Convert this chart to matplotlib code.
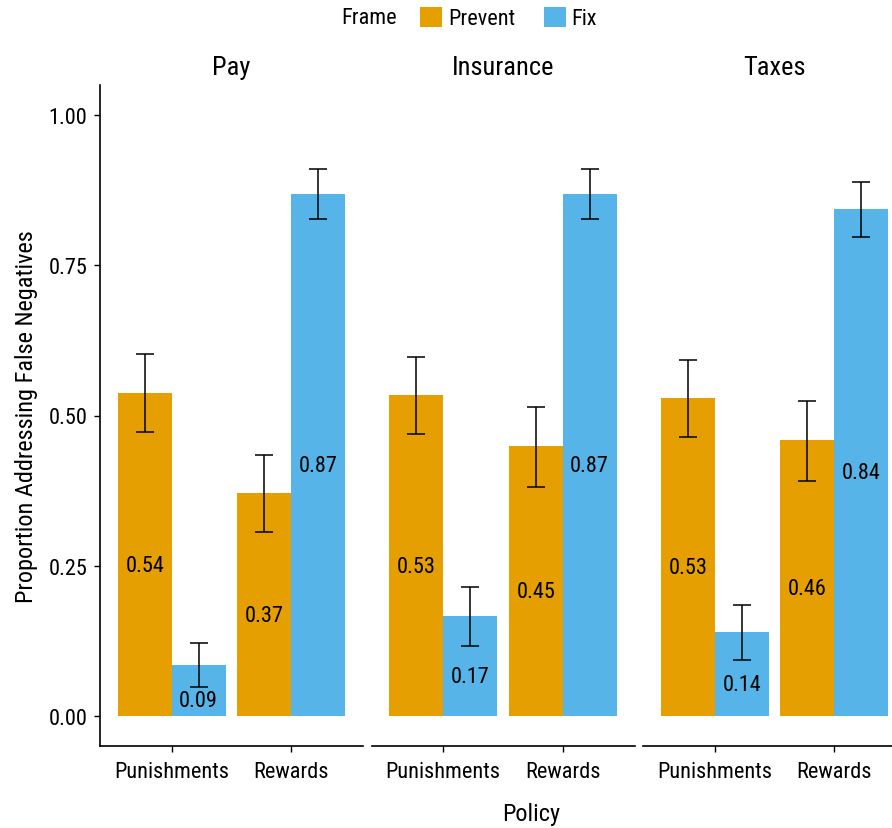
import numpy as np
import matplotlib.pyplot as plt
from matplotlib import font_manager
from matplotlib.patches import Patch

### DATOS ###

paneles = ["Pay", "Insurance", "Taxes"]
politicas = ["Punishments", "Rewards"]
marcos = ["Prevent", "Fix"]

# proporciones [panel][politica]
prevent = [[0.537, 0.371], [0.534, 0.449], [0.529, 0.459]]
fix = [[0.085, 0.869], [0.166, 0.869], [0.140, 0.844]]

# intervalos (bajo, alto)
prevent_lo = [[0.473, 0.306], [0.469, 0.381], [0.464, 0.391]]
prevent_hi = [[0.602, 0.434], [0.597, 0.514], [0.592, 0.524]]
fix_lo = [[0.048, 0.827], [0.116, 0.827], [0.093, 0.797]]
fix_hi = [[0.121, 0.910], [0.215, 0.910], [0.185, 0.889]]

yticks = [0.00, 0.25, 0.50, 0.75, 1.00]

colores = {"Prevent": "#E69F00", "Fix": "#56B4E9"}

### FUENTE ###

nombres = set(f.name for f in font_manager.fontManager.ttflist)
fam = []
for n in ["Liberation Sans Narrow", "Roboto Condensed", "Roboto", "DejaVu Sans"]:
	if n in nombres:
		fam.append(n)
plt.rcParams['font.family'] = fam

W, H = 892, 829
fig = plt.figure(figsize=(W/100, H/100), dpi=100)

ylo, yhi = -0.05, 1.05
y0px = 717 + (0 - ylo)*601
y1px = 717 - yhi*601
ancho = 263
izq = [100, 371.5, 643]

datos = {"Prevent": (prevent, prevent_lo, prevent_hi), "Fix": (fix, fix_lo, fix_hi)}

x = np.arange(1, len(politicas)+1)
w = 0.45
fs = 16

for i, panel in enumerate(paneles):
	ax = fig.add_axes([izq[i]/W, (H - y0px)/H, ancho/W, (y0px - y1px)/H])
	for j, m in enumerate(marcos):
		vals, lo, hi = datos[m]
		v = np.array(vals[i])
		xs = x + (j - 0.5)*w
		ax.bar(xs, v, width=w, color=colores[m], zorder=1)
		err = [v - np.array(lo[i]), np.array(hi[i]) - v]
		ax.errorbar(xs, v, yerr=err, fmt="none", ecolor="black", elinewidth=1.1,
			capsize=6.5, capthick=1.1, zorder=2)
		for xx, vv in zip(xs, v):
			ax.text(xx, vv/2, "%.2f" % vv, ha="center", va="top", fontsize=fs, zorder=3)
	ax.set_xticks(x)
	ax.set_xticklabels(politicas, fontsize=fs)
	ax.text(0.5, (y0px - 68)/(y0px - y1px), panel, transform=ax.transAxes,
		ha="center", va="center", fontsize=19)
	for s in ["top", "right"]:
		ax.spines[s].set_visible(False)
	ax.spines["bottom"].set_linewidth(1.2)
	ax.tick_params(axis="x", length=4, width=1.0, pad=7)
	if i == 0:
		ax.set_yticks(yticks)
		ax.set_yticklabels(["%.2f" % t for t in yticks], fontsize=fs)
		ax.tick_params(axis="y", length=4, width=1.0, pad=5)
		ax.spines["left"].set_linewidth(1.2)
		ax.set_ylabel("Proportion Addressing False Negatives", fontsize=17.5, labelpad=8)
	else:
		ax.spines["left"].set_visible(False)
		ax.set_yticks([])
	ax.set_xlim(0.4, 2.6)
	ax.set_ylim(ylo, yhi)

fig.text(531/W, 1 - 815/H, "Policy", ha="center", va="center", fontsize=17.5)

# leyenda
fig.text(369/W, 1 - 19/H, "Frame", ha="center", va="center", fontsize=fs)
manijas = [Patch(facecolor=colores[m], edgecolor="none") for m in marcos]
fig.legend(manijas, marcos, ncol=2, loc="center left", bbox_to_anchor=(420/W, 1 - 19/H),
	frameon=False, fontsize=fs, handlelength=1.0, handleheight=1.0,
	handletextpad=0.25, columnspacing=1.3, borderpad=0, borderaxespad=0)

plt.savefig("out.png", dpi=100)
